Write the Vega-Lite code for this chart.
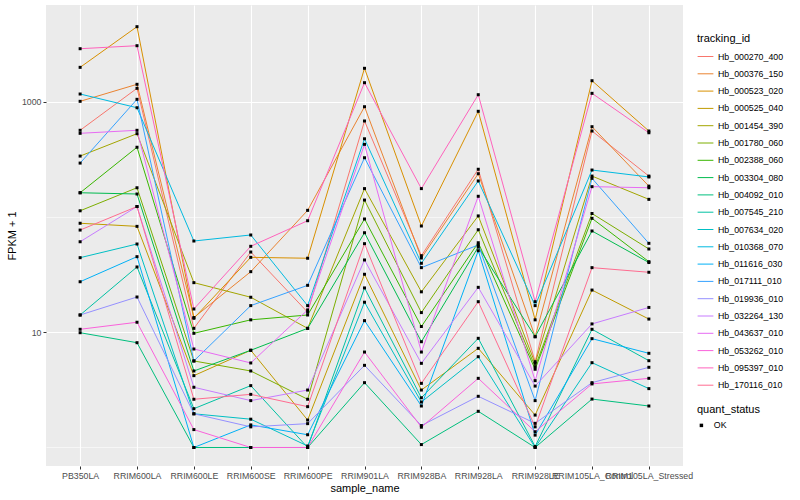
{
"$schema": "https://vega.github.io/schema/vega-lite/v6.json",
"width": 637, "height": 461,
"autosize": {"type": "none"},
"padding": {"left": 46, "top": 5, "right": 117, "bottom": 34},
"background": "white",
"config": {"view": {"fill": "#EBEBEB", "stroke": null}, "font": "Liberation Sans"},
"datasets": {"d": [
{"id":"Hb_000270_400","sample":"PB350LA","fpkm":564},{"id":"Hb_000270_400","sample":"RRIM600LA","fpkm":1304},{"id":"Hb_000270_400","sample":"RRIM600LE","fpkm":10.8},{"id":"Hb_000270_400","sample":"RRIM600SE","fpkm":49.6},{"id":"Hb_000270_400","sample":"RRIM600PE","fpkm":14.9},{"id":"Hb_000270_400","sample":"RRIM901LA","fpkm":679},{"id":"Hb_000270_400","sample":"RRIM928BA","fpkm":46.1},{"id":"Hb_000270_400","sample":"RRIM928LA","fpkm":259},{"id":"Hb_000270_400","sample":"RRIM928LE","fpkm":5.55},{"id":"Hb_000270_400","sample":"RRIM105LA_Control","fpkm":556},{"id":"Hb_000270_400","sample":"RRIM105LA_Stressed","fpkm":226},
{"id":"Hb_000376_150","sample":"PB350LA","fpkm":1006},{"id":"Hb_000376_150","sample":"RRIM600LA","fpkm":1413},{"id":"Hb_000376_150","sample":"RRIM600LE","fpkm":13.4},{"id":"Hb_000376_150","sample":"RRIM600SE","fpkm":33.5},{"id":"Hb_000376_150","sample":"RRIM600PE","fpkm":114},{"id":"Hb_000376_150","sample":"RRIM901LA","fpkm":903},{"id":"Hb_000376_150","sample":"RRIM928BA","fpkm":44.0},{"id":"Hb_000376_150","sample":"RRIM928LA","fpkm":237},{"id":"Hb_000376_150","sample":"RRIM928LE","fpkm":9.14},{"id":"Hb_000376_150","sample":"RRIM105LA_Control","fpkm":606},{"id":"Hb_000376_150","sample":"RRIM105LA_Stressed","fpkm":185},
{"id":"Hb_000523_020","sample":"PB350LA","fpkm":1983},{"id":"Hb_000523_020","sample":"RRIM600LA","fpkm":4467},{"id":"Hb_000523_020","sample":"RRIM600LE","fpkm":13.2},{"id":"Hb_000523_020","sample":"RRIM600SE","fpkm":44.6},{"id":"Hb_000523_020","sample":"RRIM600PE","fpkm":43.8},{"id":"Hb_000523_020","sample":"RRIM901LA","fpkm":1945},{"id":"Hb_000523_020","sample":"RRIM928BA","fpkm":83.4},{"id":"Hb_000523_020","sample":"RRIM928LA","fpkm":824},{"id":"Hb_000523_020","sample":"RRIM928LE","fpkm":12.8},{"id":"Hb_000523_020","sample":"RRIM105LA_Control","fpkm":1518},{"id":"Hb_000523_020","sample":"RRIM105LA_Stressed","fpkm":556},
{"id":"Hb_000525_040","sample":"PB350LA","fpkm":88.1},{"id":"Hb_000525_040","sample":"RRIM600LA","fpkm":82.8},{"id":"Hb_000525_040","sample":"RRIM600LE","fpkm":4.2},{"id":"Hb_000525_040","sample":"RRIM600SE","fpkm":6.97},{"id":"Hb_000525_040","sample":"RRIM600PE","fpkm":1.73},{"id":"Hb_000525_040","sample":"RRIM901LA","fpkm":31.8},{"id":"Hb_000525_040","sample":"RRIM928BA","fpkm":3.15},{"id":"Hb_000525_040","sample":"RRIM928LA","fpkm":7.25},{"id":"Hb_000525_040","sample":"RRIM928LE","fpkm":1.91},{"id":"Hb_000525_040","sample":"RRIM105LA_Control","fpkm":23.2},{"id":"Hb_000525_040","sample":"RRIM105LA_Stressed","fpkm":13.0},
{"id":"Hb_001454_390","sample":"PB350LA","fpkm":337},{"id":"Hb_001454_390","sample":"RRIM600LA","fpkm":527},{"id":"Hb_001454_390","sample":"RRIM600LE","fpkm":26.9},{"id":"Hb_001454_390","sample":"RRIM600SE","fpkm":20.1},{"id":"Hb_001454_390","sample":"RRIM600PE","fpkm":10.8},{"id":"Hb_001454_390","sample":"RRIM901LA","fpkm":176},{"id":"Hb_001454_390","sample":"RRIM928BA","fpkm":22.4},{"id":"Hb_001454_390","sample":"RRIM928LA","fpkm":102},{"id":"Hb_001454_390","sample":"RRIM928LE","fpkm":5.37},{"id":"Hb_001454_390","sample":"RRIM105LA_Control","fpkm":226},{"id":"Hb_001454_390","sample":"RRIM105LA_Stressed","fpkm":142},
{"id":"Hb_001780_060","sample":"PB350LA","fpkm":113},{"id":"Hb_001780_060","sample":"RRIM600LA","fpkm":179},{"id":"Hb_001780_060","sample":"RRIM600LE","fpkm":5.63},{"id":"Hb_001780_060","sample":"RRIM600SE","fpkm":4.61},{"id":"Hb_001780_060","sample":"RRIM600PE","fpkm":2.62},{"id":"Hb_001780_060","sample":"RRIM901LA","fpkm":140},{"id":"Hb_001780_060","sample":"RRIM928BA","fpkm":14.8},{"id":"Hb_001780_060","sample":"RRIM928LA","fpkm":77.4},{"id":"Hb_001780_060","sample":"RRIM928LE","fpkm":5.02},{"id":"Hb_001780_060","sample":"RRIM105LA_Control","fpkm":107},{"id":"Hb_001780_060","sample":"RRIM105LA_Stressed","fpkm":52.7},
{"id":"Hb_002388_060","sample":"PB350LA","fpkm":162},{"id":"Hb_002388_060","sample":"RRIM600LA","fpkm":402},{"id":"Hb_002388_060","sample":"RRIM600LE","fpkm":9.78},{"id":"Hb_002388_060","sample":"RRIM600SE","fpkm":12.8},{"id":"Hb_002388_060","sample":"RRIM600PE","fpkm":14.1},{"id":"Hb_002388_060","sample":"RRIM901LA","fpkm":95.9},{"id":"Hb_002388_060","sample":"RRIM928BA","fpkm":11.2},{"id":"Hb_002388_060","sample":"RRIM928LA","fpkm":59.7},{"id":"Hb_002388_060","sample":"RRIM928LE","fpkm":4.77},{"id":"Hb_002388_060","sample":"RRIM105LA_Control","fpkm":97.2},{"id":"Hb_002388_060","sample":"RRIM105LA_Stressed","fpkm":40.9},
{"id":"Hb_003304_080","sample":"PB350LA","fpkm":162},{"id":"Hb_003304_080","sample":"RRIM600LA","fpkm":158},{"id":"Hb_003304_080","sample":"RRIM600LE","fpkm":4.61},{"id":"Hb_003304_080","sample":"RRIM600SE","fpkm":6.97},{"id":"Hb_003304_080","sample":"RRIM600PE","fpkm":10.8},{"id":"Hb_003304_080","sample":"RRIM901LA","fpkm":72.9},{"id":"Hb_003304_080","sample":"RRIM928BA","fpkm":8.27},{"id":"Hb_003304_080","sample":"RRIM928LA","fpkm":54.8},{"id":"Hb_003304_080","sample":"RRIM928LE","fpkm":9.14},{"id":"Hb_003304_080","sample":"RRIM105LA_Control","fpkm":75.5},{"id":"Hb_003304_080","sample":"RRIM105LA_Stressed","fpkm":40.2},
{"id":"Hb_004092_010","sample":"PB350LA","fpkm":9.9},{"id":"Hb_004092_010","sample":"RRIM600LA","fpkm":8.11},{"id":"Hb_004092_010","sample":"RRIM600LE","fpkm":1},{"id":"Hb_004092_010","sample":"RRIM600SE","fpkm":1},{"id":"Hb_004092_010","sample":"RRIM600PE","fpkm":1},{"id":"Hb_004092_010","sample":"RRIM901LA","fpkm":3.65},{"id":"Hb_004092_010","sample":"RRIM928BA","fpkm":1.06},{"id":"Hb_004092_010","sample":"RRIM928LA","fpkm":2.06},{"id":"Hb_004092_010","sample":"RRIM928LE","fpkm":1},{"id":"Hb_004092_010","sample":"RRIM105LA_Control","fpkm":2.63},{"id":"Hb_004092_010","sample":"RRIM105LA_Stressed","fpkm":2.29},
{"id":"Hb_007545_210","sample":"PB350LA","fpkm":14.1},{"id":"Hb_007545_210","sample":"RRIM600LA","fpkm":36.8},{"id":"Hb_007545_210","sample":"RRIM600LE","fpkm":2.17},{"id":"Hb_007545_210","sample":"RRIM600SE","fpkm":3.44},{"id":"Hb_007545_210","sample":"RRIM600PE","fpkm":1},{"id":"Hb_007545_210","sample":"RRIM901LA","fpkm":24.2},{"id":"Hb_007545_210","sample":"RRIM928BA","fpkm":2.7},{"id":"Hb_007545_210","sample":"RRIM928LA","fpkm":8.85},{"id":"Hb_007545_210","sample":"RRIM928LE","fpkm":1.02},{"id":"Hb_007545_210","sample":"RRIM105LA_Control","fpkm":10.6},{"id":"Hb_007545_210","sample":"RRIM105LA_Stressed","fpkm":5.66},
{"id":"Hb_007634_020","sample":"PB350LA","fpkm":44.3},{"id":"Hb_007634_020","sample":"RRIM600LA","fpkm":58.2},{"id":"Hb_007634_020","sample":"RRIM600LE","fpkm":1.96},{"id":"Hb_007634_020","sample":"RRIM600SE","fpkm":1.76},{"id":"Hb_007634_020","sample":"RRIM600PE","fpkm":1.03},{"id":"Hb_007634_020","sample":"RRIM901LA","fpkm":18.2},{"id":"Hb_007634_020","sample":"RRIM928BA","fpkm":2.48},{"id":"Hb_007634_020","sample":"RRIM928LA","fpkm":6.13},{"id":"Hb_007634_020","sample":"RRIM928LE","fpkm":1},{"id":"Hb_007634_020","sample":"RRIM105LA_Control","fpkm":5.44},{"id":"Hb_007634_020","sample":"RRIM105LA_Stressed","fpkm":3.24},
{"id":"Hb_010368_070","sample":"PB350LA","fpkm":1164},{"id":"Hb_010368_070","sample":"RRIM600LA","fpkm":885},{"id":"Hb_010368_070","sample":"RRIM600LE","fpkm":61.8},{"id":"Hb_010368_070","sample":"RRIM600SE","fpkm":69.7},{"id":"Hb_010368_070","sample":"RRIM600PE","fpkm":17.0},{"id":"Hb_010368_070","sample":"RRIM901LA","fpkm":476},{"id":"Hb_010368_070","sample":"RRIM928BA","fpkm":39.6},{"id":"Hb_010368_070","sample":"RRIM928LA","fpkm":205},{"id":"Hb_010368_070","sample":"RRIM928LE","fpkm":17.0},{"id":"Hb_010368_070","sample":"RRIM105LA_Control","fpkm":255},{"id":"Hb_010368_070","sample":"RRIM105LA_Stressed","fpkm":222},
{"id":"Hb_011616_030","sample":"PB350LA","fpkm":27.4},{"id":"Hb_011616_030","sample":"RRIM600LA","fpkm":45.2},{"id":"Hb_011616_030","sample":"RRIM600LE","fpkm":1},{"id":"Hb_011616_030","sample":"RRIM600SE","fpkm":1.57},{"id":"Hb_011616_030","sample":"RRIM600PE","fpkm":1.29},{"id":"Hb_011616_030","sample":"RRIM901LA","fpkm":12.6},{"id":"Hb_011616_030","sample":"RRIM928BA","fpkm":2.29},{"id":"Hb_011616_030","sample":"RRIM928LA","fpkm":50.9},{"id":"Hb_011616_030","sample":"RRIM928LE","fpkm":1.28},{"id":"Hb_011616_030","sample":"RRIM105LA_Control","fpkm":8.79},{"id":"Hb_011616_030","sample":"RRIM105LA_Stressed","fpkm":6.56},
{"id":"Hb_017111_010","sample":"PB350LA","fpkm":293},{"id":"Hb_017111_010","sample":"RRIM600LA","fpkm":1047},{"id":"Hb_017111_010","sample":"RRIM600LE","fpkm":5.63},{"id":"Hb_017111_010","sample":"RRIM600SE","fpkm":17.0},{"id":"Hb_017111_010","sample":"RRIM600PE","fpkm":25.5},{"id":"Hb_017111_010","sample":"RRIM901LA","fpkm":326},{"id":"Hb_017111_010","sample":"RRIM928BA","fpkm":36.3},{"id":"Hb_017111_010","sample":"RRIM928LA","fpkm":57.1},{"id":"Hb_017111_010","sample":"RRIM928LE","fpkm":2.55},{"id":"Hb_017111_010","sample":"RRIM105LA_Control","fpkm":216},{"id":"Hb_017111_010","sample":"RRIM105LA_Stressed","fpkm":59.0},
{"id":"Hb_019936_010","sample":"PB350LA","fpkm":14.1},{"id":"Hb_019936_010","sample":"RRIM600LA","fpkm":20.2},{"id":"Hb_019936_010","sample":"RRIM600LE","fpkm":1.96},{"id":"Hb_019936_010","sample":"RRIM600SE","fpkm":1.51},{"id":"Hb_019936_010","sample":"RRIM600PE","fpkm":1.61},{"id":"Hb_019936_010","sample":"RRIM901LA","fpkm":5.16},{"id":"Hb_019936_010","sample":"RRIM928BA","fpkm":1.55},{"id":"Hb_019936_010","sample":"RRIM928LA","fpkm":2.78},{"id":"Hb_019936_010","sample":"RRIM928LE","fpkm":1.62},{"id":"Hb_019936_010","sample":"RRIM105LA_Control","fpkm":3.65},{"id":"Hb_019936_010","sample":"RRIM105LA_Stressed","fpkm":4.96},
{"id":"Hb_032264_130","sample":"PB350LA","fpkm":60.9},{"id":"Hb_032264_130","sample":"RRIM600LA","fpkm":123},{"id":"Hb_032264_130","sample":"RRIM600LE","fpkm":3.33},{"id":"Hb_032264_130","sample":"RRIM600SE","fpkm":2.55},{"id":"Hb_032264_130","sample":"RRIM600PE","fpkm":3.15},{"id":"Hb_032264_130","sample":"RRIM901LA","fpkm":42.3},{"id":"Hb_032264_130","sample":"RRIM928BA","fpkm":5.37},{"id":"Hb_032264_130","sample":"RRIM928LA","fpkm":24.5},{"id":"Hb_032264_130","sample":"RRIM928LE","fpkm":3.41},{"id":"Hb_032264_130","sample":"RRIM105LA_Control","fpkm":11.8},{"id":"Hb_032264_130","sample":"RRIM105LA_Stressed","fpkm":16.4},
{"id":"Hb_043637_010","sample":"PB350LA","fpkm":531},{"id":"Hb_043637_010","sample":"RRIM600LA","fpkm":564},{"id":"Hb_043637_010","sample":"RRIM600LE","fpkm":7.15},{"id":"Hb_043637_010","sample":"RRIM600SE","fpkm":5.41},{"id":"Hb_043637_010","sample":"RRIM600PE","fpkm":15.6},{"id":"Hb_043637_010","sample":"RRIM901LA","fpkm":426},{"id":"Hb_043637_010","sample":"RRIM928BA","fpkm":6.73},{"id":"Hb_043637_010","sample":"RRIM928LA","fpkm":151},{"id":"Hb_043637_010","sample":"RRIM928LE","fpkm":3.8},{"id":"Hb_043637_010","sample":"RRIM105LA_Control","fpkm":183},{"id":"Hb_043637_010","sample":"RRIM105LA_Stressed","fpkm":179},
{"id":"Hb_053262_010","sample":"PB350LA","fpkm":10.6},{"id":"Hb_053262_010","sample":"RRIM600LA","fpkm":12.2},{"id":"Hb_053262_010","sample":"RRIM600LE","fpkm":1.43},{"id":"Hb_053262_010","sample":"RRIM600SE","fpkm":1},{"id":"Hb_053262_010","sample":"RRIM600PE","fpkm":1},{"id":"Hb_053262_010","sample":"RRIM901LA","fpkm":6.73},{"id":"Hb_053262_010","sample":"RRIM928BA","fpkm":1.5},{"id":"Hb_053262_010","sample":"RRIM928LA","fpkm":3.98},{"id":"Hb_053262_010","sample":"RRIM928LE","fpkm":1.37},{"id":"Hb_053262_010","sample":"RRIM105LA_Control","fpkm":3.56},{"id":"Hb_053262_010","sample":"RRIM105LA_Stressed","fpkm":3.98},
{"id":"Hb_095397_010","sample":"PB350LA","fpkm":2877},{"id":"Hb_095397_010","sample":"RRIM600LA","fpkm":3055},{"id":"Hb_095397_010","sample":"RRIM600LE","fpkm":15.9},{"id":"Hb_095397_010","sample":"RRIM600SE","fpkm":55.6},{"id":"Hb_095397_010","sample":"RRIM600PE","fpkm":92.7},{"id":"Hb_095397_010","sample":"RRIM901LA","fpkm":1459},{"id":"Hb_095397_010","sample":"RRIM928BA","fpkm":176},{"id":"Hb_095397_010","sample":"RRIM928LA","fpkm":1148},{"id":"Hb_095397_010","sample":"RRIM928LE","fpkm":18.4},{"id":"Hb_095397_010","sample":"RRIM105LA_Control","fpkm":1180},{"id":"Hb_095397_010","sample":"RRIM105LA_Stressed","fpkm":537},
{"id":"Hb_170116_010","sample":"PB350LA","fpkm":76.9},{"id":"Hb_170116_010","sample":"RRIM600LA","fpkm":123},{"id":"Hb_170116_010","sample":"RRIM600LE","fpkm":2.62},{"id":"Hb_170116_010","sample":"RRIM600SE","fpkm":2.89},{"id":"Hb_170116_010","sample":"RRIM600PE","fpkm":2.26},{"id":"Hb_170116_010","sample":"RRIM901LA","fpkm":58.6},{"id":"Hb_170116_010","sample":"RRIM928BA","fpkm":3.6},{"id":"Hb_170116_010","sample":"RRIM928LA","fpkm":18.4},{"id":"Hb_170116_010","sample":"RRIM928LE","fpkm":1.51},{"id":"Hb_170116_010","sample":"RRIM105LA_Control","fpkm":36.3},{"id":"Hb_170116_010","sample":"RRIM105LA_Stressed","fpkm":33.1}
]},
"data": {"name": "d"},
"encoding": {
  "x": {"field": "sample", "type": "nominal", "title": "sample_name",
    "sort": ["PB350LA","RRIM600LA","RRIM600LE","RRIM600SE","RRIM600PE","RRIM901LA","RRIM928BA","RRIM928LA","RRIM928LE","RRIM105LA_Control","RRIM105LA_Stressed"],
    "scale": {"type": "point", "padding": 0.6},
    "axis": {"labelAngle": 0, "labelOverlap": false, "labelFontSize": 8.8, "labelColor": "#4D4D4D", "labelPadding": 2,
      "domain": false, "ticks": true, "tickColor": "#333333", "tickSize": 3, "tickWidth": 1,
      "grid": true, "gridColor": "white", "gridWidth": 1.1,
      "titleFontSize": 11, "titleFontWeight": "normal", "titleColor": "black", "titlePadding": 3}},
  "y": {"field": "fpkm", "type": "quantitative", "title": "FPKM + 1",
    "scale": {"type": "log", "domain": [0.691, 6887], "nice": false},
    "axis": {"values": [1, 10, 100, 1000],
      "labelExpr": "datum.value == 1000 ? '1000' : (datum.value == 10 ? '10' : '')",
      "labelFontSize": 8.8, "labelColor": "#4D4D4D", "labelPadding": 2,
      "domain": false, "tickColor": "#333333", "tickSize": 3, "tickWidth": 1,
      "tickOpacity": {"condition": {"test": "datum.value == 10 || datum.value == 1000", "value": 1}, "value": 0},
      "grid": true, "gridColor": "white",
      "gridWidth": {"condition": {"test": "datum.value == 10 || datum.value == 1000", "value": 1.1}, "value": 0.55},
      "titleFontSize": 11, "titleFontWeight": "normal", "titleColor": "black", "titlePadding": 4}}
},
"layer": [
  {"mark": {"type": "line", "strokeWidth": 1},
   "encoding": {"color": {"field": "id", "type": "nominal", "title": "tracking_id",
     "scale": {"domain": ["Hb_000270_400","Hb_000376_150","Hb_000523_020","Hb_000525_040","Hb_001454_390","Hb_001780_060","Hb_002388_060","Hb_003304_080","Hb_004092_010","Hb_007545_210","Hb_007634_020","Hb_010368_070","Hb_011616_030","Hb_017111_010","Hb_019936_010","Hb_032264_130","Hb_043637_010","Hb_053262_010","Hb_095397_010","Hb_170116_010"],
       "range": ["#F8766D","#EA8331","#D89000","#C09B00","#A3A500","#7CAE00","#39B600","#00BB4E","#00BF7D","#00C1A3","#00BFC4","#00BAE0","#00B0F6","#35A2FF","#9590FF","#C77CFF","#E76BF3","#FA62DB","#FF62BC","#FF6C90"]},
     "legend": {"orient": "none", "legendX": 651, "legendY": 28, "symbolType": "stroke", "symbolSize": 250, "symbolStrokeWidth": 1,
       "labelFontSize": 8.8, "labelColor": "black", "labelOffset": 4, "rowPadding": 3.3,
       "titleFontSize": 11, "titleFontWeight": "normal", "titleColor": "black", "titlePadding": 4}}}},
  {"mark": {"type": "point", "filled": true, "opacity": 1, "size": 9, "color": "black"},
   "encoding": {"shape": {"datum": "OK", "title": "quant_status", "scale": {"range": ["square"]},
     "legend": {"orient": "none", "legendX": 651, "legendY": 399, "symbolFillColor": "black", "symbolStrokeColor": "black", "symbolSize": 12,
       "labelFontSize": 8.8, "labelColor": "black", "labelOffset": 8,
       "titleFontSize": 11, "titleFontWeight": "normal", "titleColor": "black", "titlePadding": 6}}}}
]
}
